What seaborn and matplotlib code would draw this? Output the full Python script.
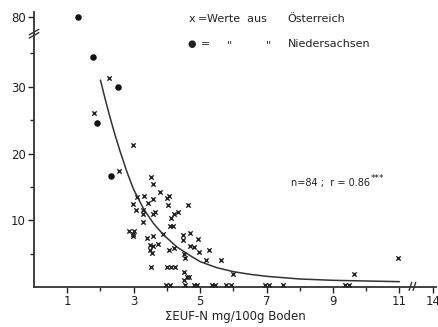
import numpy as np
import pandas as pd
import seaborn as sns
import matplotlib.pyplot as plt

# Werte aus Oesterreich (x) und Niedersachsen (dots)
aut_x = [2.26, 1.80, 2.97, 2.55,
         3.52, 3.59, 3.80, 4.07, 4.00, 3.11, 3.32, 3.58, 3.43, 2.99, 3.06, 3.28, 4.02, 4.63,
         3.64, 3.59, 3.29, 4.32, 4.20, 4.11, 3.29, 4.10, 4.18, 2.87, 3.02, 2.99, 2.97, 3.39,
         3.59, 3.88, 4.48, 4.48, 4.70, 4.95, 3.49, 3.59, 3.74, 3.49, 3.54, 4.05, 4.20,
         4.70, 4.82, 4.96, 5.27, 4.50, 4.54, 5.17, 5.64, 5.98, 9.64, 10.96,
         3.52, 4.00, 4.12, 4.24,
         4.52, 4.60, 4.68, 4.52,
         3.98, 4.08, 4.55, 4.82, 4.92, 5.35, 5.45, 5.78, 5.92, 6.96, 7.06, 7.49, 9.35, 9.47]
aut_y = [31.3, 26.1, 21.3, 17.4,
         16.5, 15.5, 14.2, 13.6, 13.4, 13.5, 13.6, 13.2, 12.6, 12.5, 11.6, 11.5, 12.3, 12.3,
         11.3, 10.9, 10.9, 11.3, 11.0, 10.4, 9.7, 9.1, 9.1, 8.4, 8.4, 7.9, 7.6, 7.4,
         7.6, 7.9, 7.8, 7.1, 8.1, 7.2, 6.3, 6.1, 6.4, 5.6, 5.1, 5.6, 5.8,
         6.2, 6.0, 5.3, 5.6, 5.0, 4.3, 4.0, 4.0, 1.9, 2.0, 4.3,
         3.0, 3.0, 3.0, 3.0,
         2.3, 1.5, 1.5, 1.0,
         0.3, 0.3, 0.3, 0.3, 0.3, 0.3, 0.3, 0.3, 0.3, 0.3, 0.3, 0.3, 0.3, 0.3]
nds_x = [1.33, 1.78, 2.53, 1.90, 2.31]
nds_y = [80.0, 34.5, 30.0, 24.6, 16.7]

# fitted curve
fit_x = [2.0, 2.15, 2.3, 2.45, 2.6, 2.8, 3.0, 3.3, 3.6, 3.9, 4.3, 4.7, 5.0, 5.5, 6.0,
         6.5, 7.0, 8.0, 9.0, 10.0, 11.0]
fit_y = [31.0, 28.0, 25.2, 22.6, 20.2, 17.2, 14.6, 11.7, 9.5, 7.8, 6.0, 4.7, 3.8, 2.9, 2.3,
         1.9, 1.6, 1.2, 1.0, 0.9, 0.8]

y_ticks = [10, 20, 30, 80]
x_ticks = [1, 3, 5, 7, 9, 11, 14]

BRK_Y = 37.0   # values above this are drawn past the axis break
Y80 = 40.5
X14 = 12.0


def ymap(v):
    v = np.asarray(v, dtype=float)
    return np.where(v > BRK_Y, Y80 + (v - 80.0) * 0.1, v)


def xmap(v):
    v = np.asarray(v, dtype=float)
    return np.where(v > 11.5, X14 + (v - 14.0) * 0.3, v)


df = pd.DataFrame({
    'x': np.concatenate([xmap(aut_x), xmap(nds_x)]),
    'y': np.concatenate([ymap(aut_y), ymap(nds_y)]),
    'herkunft': ['AUT'] * len(aut_x) + ['NDS'] * len(nds_x),
})
fit = pd.DataFrame({'x': fit_x, 'y': fit_y})

sns.set_style('ticks')
plt.rcParams['font.family'] = ['DejaVu Sans']

W, H = 439, 327
fig = plt.figure(figsize=(W / 100, H / 100), dpi=100)
ax = fig.add_axes([34 / W, 1 - 287 / H, 402 / W, (287 - 12) / H])

sns.lineplot(data=fit, x='x', y='y', color='#333333', lw=1.1, ax=ax, estimator=None, sort=False)
sns.scatterplot(data=df[df.herkunft == 'AUT'], x='x', y='y', marker='x', color='#222222',
                s=10, linewidth=1.0, ax=ax, legend=False, zorder=3)
sns.scatterplot(data=df[df.herkunft == 'NDS'], x='x', y='y', marker='o', color='#111111',
                s=22, linewidth=0, ax=ax, legend=False, zorder=3)

ax.set_xlim(0, 12.1)
ax.set_ylim(0, 41.2)
ax.set_xticks(xmap(x_ticks))
ax.set_xticklabels([str(t) for t in x_ticks])
ax.set_xticks([2, 4, 6, 8, 10], minor=True)
ax.set_yticks(ymap(y_ticks))
ax.set_yticklabels([str(t) for t in y_ticks])
ax.set_yticks([5, 15, 25, 35], minor=True)
ax.tick_params(axis='both', which='major', length=4, width=1, labelsize=8.5, colors='#222222', pad=2)
ax.tick_params(axis='both', which='minor', length=3, width=1)
for s in ['left', 'bottom']:
    ax.spines[s].set_linewidth(1.3)
    ax.spines[s].set_color('#333333')
sns.despine(ax=ax)
ax.set_xlabel('ΣEUF-N mg/100g Boden', fontsize=8.5, color='#222222', labelpad=1)
ax.set_ylabel('')

# axis break marks
tr = ax.transAxes
for dy in (0.0, 0.012):
    ax.plot([-0.012, 0.012], [0.905 + dy, 0.925 + dy], color='#333333', lw=1, transform=tr, clip_on=False)
for x0 in (11.33, 11.45):
    ax.plot([x0 - 0.04, x0 + 0.04], [-0.5, 0.7], color='#333333', lw=1, clip_on=False)

# legend written as text
def ftext(px, py, s, size=8, **kw):
    fig.text(px / W, 1 - py / H, s, fontsize=size, va='center', ha='left', color='#222222', **kw)

ftext(189, 19, 'x')
ftext(198, 19, '=')
ftext(207, 19, 'Werte  aus')
ftext(287, 19, 'Österreich')
ftext(187, 44, '●', size=7)
ftext(201, 44, '=')
ftext(227, 45, '"', size=8)
ftext(266, 45, '"', size=8)
ftext(288, 44, 'Niedersachsen')
ftext(291, 183, 'n=84 ;  r = 0.86', size=7)
ftext(371, 178, '***', size=6.3)

fig.savefig('out.png', dpi=100, facecolor='white')
